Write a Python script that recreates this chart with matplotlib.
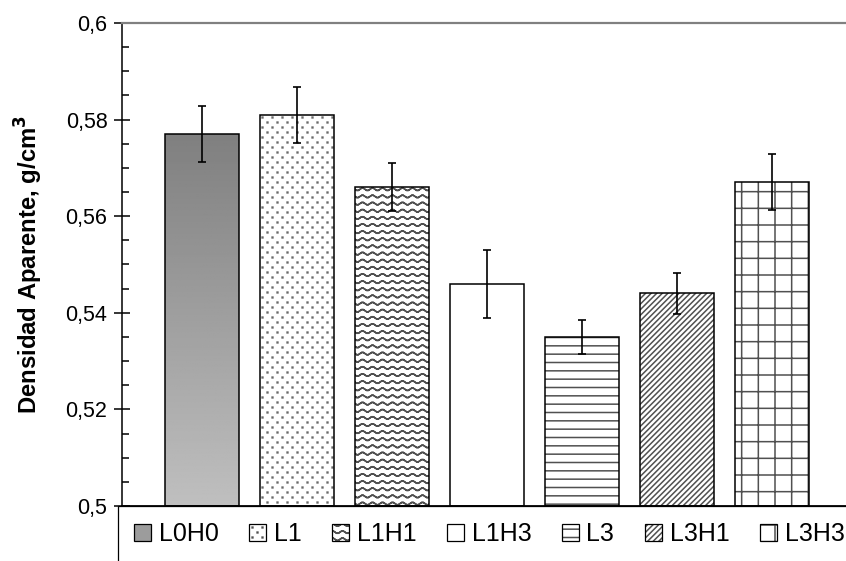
import matplotlib

matplotlib.use("Agg")
import matplotlib.pyplot as plt
import matplotlib.hatch as mhatch
from matplotlib.patches import Patch
from matplotlib.ticker import MultipleLocator, FuncFormatter
import numpy as np

categories = ["L0H0", "L1", "L1H1", "L1H3", "L3", "L3H1", "L3H3"]
density = [0.577, 0.581, 0.566, 0.546, 0.535, 0.544, 0.567]
density_err = [0.0058, 0.0058, 0.0050, 0.0071, 0.0035, 0.0042, 0.0058]
hatches = [None, ":", "~", None, "--", "//////", "+"]


# wavy hatch, not built into matplotlib
class WavyHatch(mhatch.HatchPatternBase):
    def __init__(self, hatch, density):
        self.num_rows = hatch.count("~") * 14
        self.n_seg = 60
        # go along the wave and back, so the filled area stays zero
        self.num_vertices = self.num_rows * (2 * self.n_seg + 1)

    def set_vertices_and_codes(self, vertices, codes):
        t = np.linspace(0.0, 1.0, self.n_seg + 1)
        tt = np.concatenate([t, t[-2::-1]])
        n = len(tt)
        for i in range(self.num_rows):
            y = (i + 0.5) / self.num_rows
            vertices[i * n:(i + 1) * n, 0] = tt
            vertices[i * n:(i + 1) * n, 1] = y + 0.013 * np.sin(2 * np.pi * 10 * tt)
            codes[i * n] = mhatch.Path.MOVETO
            codes[i * n + 1:(i + 1) * n] = mhatch.Path.LINETO


# staggered fine dots
class DotHatch(mhatch.HatchPatternBase):
    def __init__(self, hatch, density):
        n = hatch.count(":")
        self.rows = 20 * n
        self.cols = 10 * n
        self.num_vertices = self.rows * self.cols * 5

    def set_vertices_and_codes(self, vertices, codes):
        s = 0.004
        sq = np.array([[-s, -s], [s, -s], [s, s], [-s, s], [-s, -s]])
        k = 0
        for r in range(self.rows):
            y = (r + 0.5) / self.rows
            shift = 0.5 if r % 2 else 0.0
            for c in range(self.cols):
                xc = (c + 0.25 + shift) / self.cols
                vertices[k:k + 5] = sq + [xc, y]
                codes[k] = mhatch.Path.MOVETO
                codes[k + 1:k + 4] = mhatch.Path.LINETO
                codes[k + 4] = mhatch.Path.CLOSEPOLY
                k += 5


mhatch._hatch_types.append(WavyHatch)
mhatch._hatch_types.append(DotHatch)
mhatch._validate_hatch_pattern = lambda h: None

plt.rcParams["font.family"] = ["Liberation Sans", "DejaVu Sans"]
plt.rcParams["hatch.linewidth"] = 1.1

W, H = 846, 561
fig = plt.figure(figsize=(W / 100, H / 100), dpi=100)
ax = fig.add_axes([122 / W, 55 / H, 1 - 122 / W, 483 / H])

x = np.arange(len(categories))
ymin = 0.5
heights = [v - ymin for v in density]
width = 0.77
hatch_col = "#505050"

# fill + hatch layer
fill = ax.bar(x, heights, width, bottom=ymin, color="white",
              edgecolor=hatch_col, linewidth=0, zorder=2)
for b, h in zip(fill, hatches):
    if h:
        b.set_hatch(h)
fill[1].set_edgecolor("#6a6a6a")

# gradient for the first bar
r = fill[0]
grad = np.linspace(0, 1, 256).reshape(-1, 1)
im = ax.imshow(grad, cmap="gray", vmin=-2, vmax=2, aspect="auto",
               extent=(r.get_x(), r.get_x() + r.get_width(), r.get_y(), r.get_y() + r.get_height()),
               origin="upper", zorder=2.5)
im.set_clip_path(r)

# outlines
ax.bar(x, heights, width, bottom=ymin, fill=False, edgecolor="black", linewidth=1.1, zorder=3)

ax.errorbar(x, density, yerr=density_err, fmt="none", ecolor="black",
            elinewidth=1.2, capsize=2.8, capthick=1.2, zorder=4)

ax.set_xlim((122 - 202) / 95, (846 - 202) / 95)
ax.set_ylim(0.5, 0.6)
ax.yaxis.set_major_locator(MultipleLocator(0.02))
ax.yaxis.set_minor_locator(MultipleLocator(0.005))
ax.yaxis.set_major_formatter(FuncFormatter(lambda v, p: f"{v:g}".replace(".", ",")))
ax.tick_params(axis="y", which="major", direction="inout", length=11, width=1.1,
               labelsize=15.5, pad=5)
ax.tick_params(axis="y", which="minor", direction="in", length=5, width=1.1)
ax.set_xticks([])

ax.spines["right"].set_visible(False)
ax.spines["top"].set_color("#808080")
ax.spines["top"].set_linewidth(1.6)
ax.spines["left"].set_linewidth(1.1)
ax.spines["bottom"].set_linewidth(2)
for s in ax.spines.values():
    s.set_zorder(5)

ax.set_ylabel("Densidad Aparente, g/cm$^\\mathbf{3}$", fontsize=17.2, fontweight="bold", labelpad=15)

handles = []
for i, h in enumerate(hatches):
    if i == 0:
        f = Patch(facecolor="#9c9c9c", edgecolor="none", linewidth=0)
    else:
        f = Patch(facecolor="white", edgecolor=hatch_col, linewidth=0, hatch=h)
    e = Patch(fill=False, edgecolor="black", linewidth=0.9)
    handles.append((f, e))

leg = fig.legend(handles, categories, loc="upper left", bbox_to_anchor=(118 / W, 55 / H),
                 bbox_transform=fig.transFigure, ncol=7, fontsize=18, frameon=True,
                 fancybox=False, framealpha=1, edgecolor="black", borderaxespad=0,
                 borderpad=0.65, handlelength=0.65, handleheight=0.65,
                 handletextpad=0.32, columnspacing=1.24)
leg.get_frame().set_linewidth(0.9)

fig.savefig("out.png", dpi=100)
